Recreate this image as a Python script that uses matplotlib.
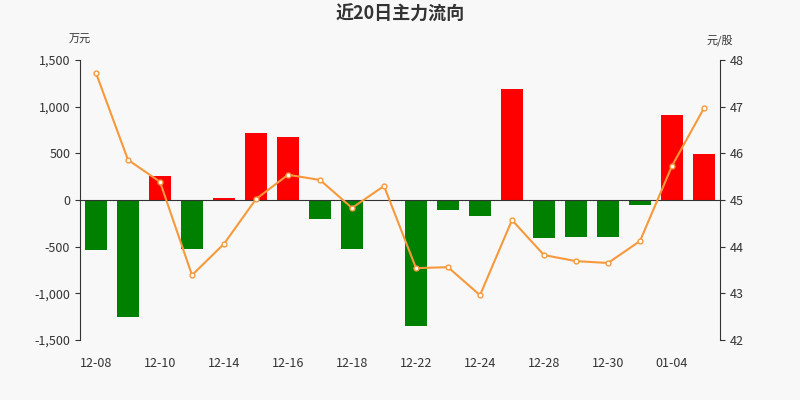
import matplotlib
matplotlib.use("Agg")
import matplotlib.pyplot as plt
import numpy as np

plt.rcParams['font.family'] = ['Noto Sans CJK SC', 'DejaVu Sans']

dates = ["12-08","12-09","12-10","12-13","12-14","12-15","12-16","12-17","12-18","12-21",
         "12-22","12-23","12-24","12-27","12-28","12-29","12-30","12-31","01-04","01-05"]
flow = [-536,-1254,257,-525,20,718,675,-204,-525,-5,-1350,-107,-171,1190,-407,-396,-396,-54,911,493]
price = [47.72,45.86,45.39,43.39,44.06,45.02,45.54,45.43,44.83,45.30,43.54,43.56,42.96,44.57,
         43.82,43.69,43.65,44.12,45.73,46.97]

bg = '#f8f8f8'
fig = plt.figure(figsize=(8,4), dpi=100, facecolor=bg)
ax = fig.add_axes([0.1, 0.15, 0.8, 0.7], facecolor=bg)
x = np.arange(len(dates))
colors = ['#ff0000' if v >= 0 else '#008000' for v in flow]
ax.bar(x, flow, width=0.7, color=colors, zorder=2)
ax.axhline(0, color='#333333', lw=0.8, zorder=3)
ax.set_ylim(-1500, 1500)
ax.set_xlim(-0.5, len(dates)-0.5)
ax.set_yticks([-1500,-1000,-500,0,500,1000,1500])
ax.set_yticklabels([f"{v:,}" for v in [-1500,-1000,-500,0,500,1000,1500]])
ax.set_xticks(x[::2])
ax.set_xticklabels(dates[::2])
for s in ['top','right']:
    ax.spines[s].set_visible(False)
ax.spines['left'].set_color('#333333')
ax.spines['bottom'].set_visible(False)
ax.tick_params(colors='#333333', labelsize=9)
ax.tick_params(axis='x', length=0, pad=12)

ax2 = ax.twinx()
ax2.plot(x, price, color='#f7993b', lw=1.5, marker='o', ms=3.5, mfc='white', mec='#f7993b', zorder=4)
ax2.set_ylim(42, 48)
ax2.set_yticks(range(42, 49))
for s in ['top','left','bottom']:
    ax2.spines[s].set_visible(False)
ax2.spines['right'].set_color('#333333')
ax2.tick_params(colors='#333333', labelsize=9)

fig.text(0.5, 0.965, "近20日主力流向", ha='center', va='center', fontsize=13, fontweight='bold', color='#333333')
fig.text(0.1, 0.9, "万元", ha='center', va='center', fontsize=8, color='#333333')
fig.text(0.9, 0.9, "元/股", ha='center', va='center', fontsize=8, color='#333333')
fig.savefig("out.png", dpi=100, facecolor=bg)
